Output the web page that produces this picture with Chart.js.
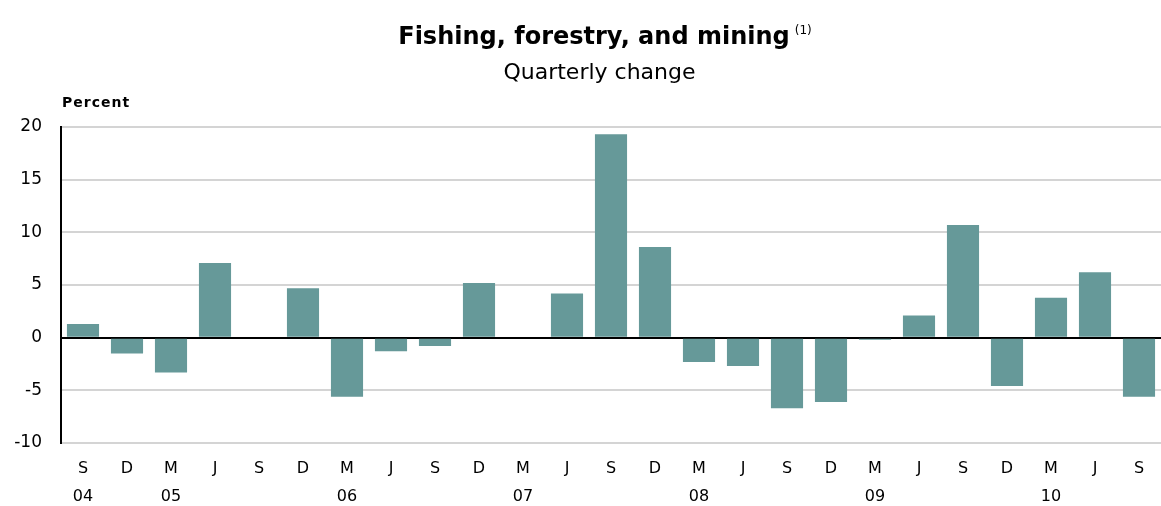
<!DOCTYPE html>
<html>
<head>
<meta charset="utf-8">
<script src="https://cdn.jsdelivr.net/npm/chart.js@4"></script>
<style>
  body { margin: 0; background: #fff; }
  #wrap { position: relative; width: 1161px; height: 506px; }
  #title { position: absolute; left: 0; width: 1210px; top: 22px; text-align: center;
           font: bold 24px "DejaVu Sans", sans-serif; color: #000; }
  #title sup { font-size: 12px; font-weight: normal; vertical-align: 10px; margin-left: 5px; }
  #subtitle { position: absolute; left: 0; width: 1199px; top: 59px; text-align: center;
              font: 22px "DejaVu Sans", sans-serif; color: #000; }
  #unit { position: absolute; left: 62px; top: 94px; letter-spacing: 1px;
          font: bold 14px "DejaVu Sans", sans-serif; color: #000; }
  canvas { position: absolute; left: 0; top: 0; }
</style>
</head>
<body>
<div id="wrap">
  <canvas id="quarterlyChart" width="1161" height="506"></canvas>
  <div id="title">Fishing, forestry, and mining<sup>(1)</sup></div>
  <div id="subtitle">Quarterly change</div>
  <div id="unit">Percent</div>
</div>
<script>
// quarter letters and the year shown under the first quarter of each year
var quarters = ['S', 'D', 'M', 'J', 'S', 'D', 'M', 'J', 'S', 'D', 'M', 'J', 'S',
                'D', 'M', 'J', 'S', 'D', 'M', 'J', 'S', 'D', 'M', 'J', 'S'];
var years = ['04', '', '05', '', '', '', '06', '', '', '', '07', '', '',
             '', '08', '', '', '', '09', '', '', '', '10', '', ''];
// quarterly percent change
var changes = [1.3, -1.5, -3.3, 7.1, 0, 4.7, -5.6, -1.3, -0.8, 5.2, 0, 4.2, 19.3,
               8.6, -2.3, -2.7, -6.7, -6.1, -0.2, 2.1, 10.7, -4.6, 3.8, 6.2, -5.6];
var yTicks = [-10, -5, 0, 5, 10, 15, 20];

var labels = quarters.map(function(q, i) { return [q, years[i]]; });

var ctx = document.getElementById('quarterlyChart').getContext('2d');
new Chart(ctx, {
    type: 'bar',
    data: {
        labels: labels,
        datasets: [{
            data: changes,
            backgroundColor: '#669999',
            borderWidth: 0,
            barPercentage: 0.73,
            categoryPercentage: 1
        }]
    },
    options: {
        responsive: false,
        animation: false,
        layout: { padding: { top: 127, right: 0, bottom: 0, left: 0 } },
        plugins: {
            legend: { display: false },
            title: { display: false },
            tooltip: { enabled: false }
        },
        scales: {
            x: {
                grid: { display: false },
                border: { display: false },
                ticks: {
                    color: '#000',
                    padding: 4,
                    maxRotation: 0,
                    autoSkip: false,
                    font: { family: 'DejaVu Sans', size: 16, lineHeight: 1.75 }
                },
                afterFit: function(scale) { scale.height = 63; }
            },
            y: {
                min: -10,
                max: 20,
                afterBuildTicks: function(scale) {
                    scale.ticks = yTicks.map(function(v) { return { value: v }; });
                },
                grid: {
                    drawTicks: false,
                    color: function(c) { return c.tick && c.tick.value === 0 ? '#000' : '#d4d4d4'; },
                    lineWidth: 2
                },
                border: { color: '#000', width: 2 },
                ticks: {
                    color: '#000',
                    padding: 19,
                    font: { family: 'DejaVu Sans', size: 17 }
                },
                afterFit: function(scale) { scale.width = 61; }
            }
        }
    }
});
</script>
</body>
</html>
